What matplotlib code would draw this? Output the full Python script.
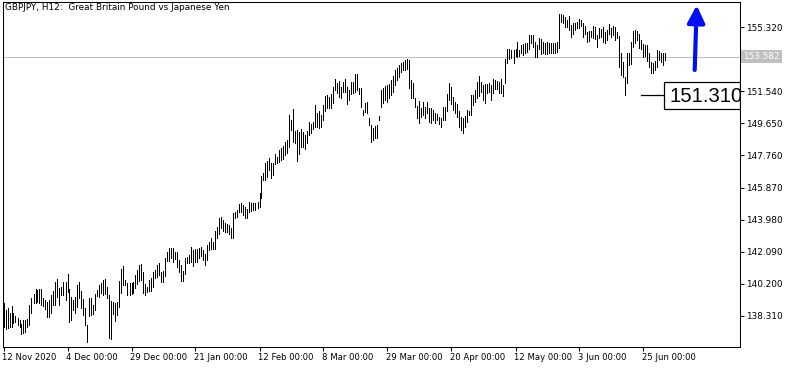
import numpy as np
import matplotlib
matplotlib.use("Agg")
import matplotlib.pyplot as plt
import matplotlib.transforms as mtransforms
from matplotlib.patches import Rectangle

# chart header and axis labels
chart_title = "GBPJPY, H12:  Great Britain Pound vs Japanese Yen"
date_labels = ["12 Nov 2020", "4 Dec 00:00", "29 Dec 00:00", "21 Jan 00:00",
               "12 Feb 00:00", "8 Mar 00:00", "29 Mar 00:00", "20 Apr 00:00",
               "12 May 00:00", "3 Jun 00:00", "25 Jun 00:00"]
bars_per_label = 32
price_ticks = [138.310, 140.200, 142.090, 143.980, 145.870,
               147.760, 149.650, 151.540, 153.430, 155.320]
last_price = 153.582
marked_low = 151.310

# H12 bars (high / low)
highs = [
    139.08, 138.65, 138.79, 138.49, 138.88, 138.45, 138.29, 138.16, 138.06, 137.80,
    138.06, 138.06, 138.10, 138.94, 139.37, 139.57, 139.89, 139.83, 139.89, 139.87,
    139.34, 139.24, 139.14, 139.24, 139.53, 139.77, 140.32, 140.46, 139.96, 140.02,
    140.28, 140.32, 140.75, 139.87, 139.43, 139.24, 139.43, 140.12, 140.32, 139.77,
    139.30, 138.75, 137.76, 139.34, 139.37, 138.94, 139.57, 139.83, 140.12, 140.22,
    140.42, 140.48, 140.02, 139.53, 139.18, 139.14, 139.04, 139.10, 140.36, 141.07,
    141.24, 140.42, 140.22, 140.22, 140.22, 140.28, 140.71, 141.01, 141.30, 141.34,
    140.87, 140.16, 140.02, 140.42, 140.55, 140.87, 141.01, 141.30, 141.40, 140.91,
    140.95, 141.73, 142.09, 142.28, 142.32, 142.28, 142.09, 142.09, 141.60, 141.30,
    140.95, 141.73, 141.79, 141.89, 142.38, 142.19, 142.25, 142.25, 142.28, 142.34,
    142.19, 141.93, 142.48, 142.68, 142.87, 142.68, 143.31, 143.56, 144.05, 144.11,
    143.96, 143.80, 143.70, 143.66, 143.46, 144.35, 144.41, 144.55,
    144.88, 144.98, 144.84, 144.74, 144.61, 145.04, 144.94, 144.98, 144.94, 145.04,
    145.53, 146.57, 146.71, 147.30, 147.44, 147.60, 147.30, 147.30, 147.83, 147.69,
    148.09, 148.22, 148.34, 148.54, 148.68, 150.15, 149.86, 150.51, 149.21, 149.27,
    149.13, 149.33, 149.17, 148.97, 149.21, 149.76, 149.60, 149.76, 150.74, 150.25,
    150.39, 150.15, 150.74, 151.29, 151.33, 151.23, 151.37, 151.82, 152.27, 152.02,
    152.16, 151.82, 152.12, 152.27, 151.82, 151.63, 152.08, 152.08, 152.57, 152.57,
    151.76, 151.72, 150.45, 150.84, 150.94, 149.99, 149.56, 149.36, 149.52, 149.56,
    150.09, 151.63, 151.72, 151.88, 151.92, 151.96, 152.22, 152.47, 152.81, 152.90,
    153.10, 153.20, 153.30, 153.40, 153.45, 153.40, 152.22, 152.02, 151.13, 150.70,
    150.98, 150.58, 150.94, 150.64, 150.94, 150.54, 150.58, 150.45, 150.25, 150.19,
    150.05, 149.99, 150.64, 150.64, 151.37, 152.02, 151.82, 151.23, 150.94, 150.78,
    150.39, 150.05, 149.95, 150.11, 150.45, 150.39, 151.33,
    151.33, 151.62, 152.11, 152.45, 152.11, 151.92, 151.98, 151.98, 152.05, 151.92,
    152.25, 152.21, 152.17, 152.11, 152.25, 151.92, 153.43, 154.02, 154.02, 153.98,
    153.98, 154.02, 154.43, 153.98, 154.28, 154.33, 154.41, 154.37, 154.87, 154.87,
    154.87, 154.47, 154.28, 154.67, 154.61, 154.47, 154.37, 154.47, 154.37, 154.41,
    154.41, 154.41, 154.47, 156.10, 156.10, 156.05, 155.91, 155.75, 155.99, 155.46,
    155.59, 155.59, 155.65, 155.79, 155.75, 155.59, 155.40, 155.06, 155.12, 155.12,
    155.40, 155.36, 154.87, 155.26, 155.20, 155.32, 155.06, 155.16, 155.51, 155.26,
    155.40, 155.32, 155.06, 154.81, 153.78, 153.29, 152.41, 153.78, 153.82, 154.47,
    155.12, 155.16, 155.12, 154.92, 154.57, 154.33, 154.28, 154.28, 153.78, 153.29,
    153.19, 153.35, 153.98, 153.94, 153.78, 153.78, 153.78,
]
lows = [
    137.66, 137.53, 137.61, 137.66, 137.66, 137.86, 137.92, 137.76, 137.66, 137.21,
    137.27, 137.37, 137.66, 137.76, 138.49, 139.04, 139.04, 139.14, 139.04, 138.94,
    138.90, 138.71, 138.25, 138.25, 138.45, 138.94, 138.94, 139.43, 138.94, 139.53,
    139.53, 139.24, 139.73, 137.96, 138.06, 138.65, 138.45, 138.84, 139.34, 138.79,
    138.35, 137.76, 136.78, 138.29, 138.35, 138.39, 138.65, 139.47, 139.43, 139.63,
    139.53, 139.57, 139.34, 136.98, 136.94, 138.41, 138.00, 138.35, 138.84, 139.63,
    140.12, 140.12, 139.53, 139.53, 139.57, 139.63, 139.93, 140.16, 140.36, 140.42,
    139.63, 139.53, 139.73, 139.79, 139.79, 140.02, 140.55, 140.61, 140.71, 140.32,
    140.32, 140.67, 141.54, 141.54, 141.73, 141.50, 141.66, 141.20, 140.91, 140.36,
    140.36, 140.75, 141.40, 141.40, 141.50, 141.26, 141.50, 141.50, 141.69, 141.83,
    141.60, 141.30, 141.60, 142.19, 142.23, 142.23, 142.23, 142.91, 143.11, 143.46,
    143.31, 143.27, 143.27, 143.11, 142.87, 142.87, 144.05, 144.15,
    144.45, 144.41, 144.25, 144.06, 144.10, 144.45, 144.49, 144.55, 144.55, 144.65,
    144.74, 145.28, 146.32, 146.32, 146.51, 146.91, 146.42, 146.61, 147.24, 147.30,
    147.40, 147.50, 147.56, 147.79, 147.89, 148.28, 149.27, 148.54, 148.48, 147.44,
    147.83, 148.28, 148.28, 148.15, 148.48, 148.97, 149.07, 149.33, 149.46, 149.46,
    149.36, 149.46, 149.86, 150.39, 150.54, 150.54, 150.58, 150.84, 151.63, 151.43,
    151.23, 151.17, 151.49, 151.53, 150.78, 151.04, 151.37, 151.43, 151.53, 151.63,
    151.37, 150.64, 150.15, 150.35, 150.25, 149.56, 148.58, 148.68, 148.77, 148.81,
    149.86, 150.64, 150.84, 151.04, 150.94, 151.13, 151.33, 151.53, 151.92, 152.22,
    152.41, 152.71, 152.81, 152.81, 152.86, 151.72, 151.13, 151.17, 150.64, 149.95,
    149.66, 150.05, 150.15, 149.95, 150.25, 149.76, 149.66, 149.86, 149.66, 149.86,
    149.60, 149.46, 149.86, 149.86, 150.39, 151.04, 150.78, 150.45, 150.25, 150.05,
    149.46, 149.27, 149.07, 149.46, 149.76, 150.15, 150.15,
    150.74, 150.93, 151.13, 151.27, 151.52, 151.03, 150.84, 151.42, 151.52, 151.03,
    151.42, 151.66, 151.66, 151.46, 151.42, 151.27, 152.05, 153.19, 153.43, 153.49,
    153.23, 153.63, 153.59, 153.63, 153.78, 153.69, 153.82, 153.88, 154.02, 154.37,
    154.18, 153.55, 153.59, 154.02, 153.75, 153.78, 153.75, 153.75, 153.78, 153.78,
    153.78, 153.82, 153.88, 154.08, 155.65, 155.55, 155.36, 155.36, 155.16, 154.77,
    154.92, 155.16, 155.26, 155.26, 155.40, 154.73, 154.92, 154.47, 154.53, 154.77,
    154.67, 154.61, 154.18, 154.67, 154.77, 154.47, 154.37, 154.57, 154.92, 154.77,
    154.87, 154.57, 154.67, 153.00, 152.51, 152.41, 151.31, 152.05, 153.10, 153.16,
    154.18, 154.41, 154.57, 154.08, 154.02, 153.59, 153.63, 153.35, 153.00, 152.64,
    152.61, 152.80, 153.00, 153.39, 153.29, 153.10, 153.39,
]

W, H = 793, 368
fig = plt.figure(figsize=(W / 100, H / 100), dpi=100)
ax = fig.add_axes([3 / W, 21 / H, 737 / W, 345 / H])

x = np.arange(len(highs))
ax.vlines(x, lows, highs, color="black", linewidth=0.6, antialiased=False, zorder=3)

ax.set_xlim(-0.25, 368.25)
ax.set_ylim(136.464, 156.81)

# current price line
ax.axhline(last_price, color="#c0c0c0", linewidth=0.75, zorder=1)

for s in ax.spines.values():
    s.set_linewidth(0.75)

ax.yaxis.tick_right()
ax.set_yticks(price_ticks)
ax.set_yticklabels([f"{v:.3f}" for v in price_ticks])
ax.set_xticks(np.arange(len(date_labels)) * bars_per_label)
ax.set_xticklabels(date_labels, ha="left")
ax.tick_params(axis="both", direction="out", length=3.2, width=0.75, colors="black")
ax.tick_params(axis="y", pad=1.5, labelsize=6.4)
ax.tick_params(axis="x", pad=1.0, labelsize=6.1)
offset = mtransforms.ScaledTranslation(-1 / 100, 0, fig.dpi_scale_trans)
for lab in ax.get_xticklabels():
    lab.set_transform(lab.get_transform() + offset)

# last price label on the scale
trans = mtransforms.blended_transform_factory(ax.transAxes, ax.transData)
ax.text(1.004, last_price, f"{last_price:.3f}", transform=trans, ha="left",
        va="center", fontsize=6.4, color="white", clip_on=False, zorder=10,
        bbox=dict(boxstyle="square,pad=0.25", fc="#c0c0c0", ec="none"))

# marked low level with box
n = len(highs)
ax.plot([n - 13, 330.25], [marked_low, marked_low], color="black",
        linewidth=0.9, zorder=4)
box_h = 27 / 16.955
ax.add_patch(Rectangle((330.25, marked_low - box_h / 2), 38, box_h,
                       facecolor="white", edgecolor="black", linewidth=0.9, zorder=5))
ax.text(333.2, marked_low - 0.05, f"{marked_low:.3f}", fontsize=14.6,
        family="Liberation Sans", ha="left", va="center", zorder=6, clip_on=True)

# direction arrow
ax.annotate("", xy=(346.6, 156.62), xytext=(345.6, 152.80),
            arrowprops=dict(arrowstyle="-|>", color="#0010f0", lw=3,
                            mutation_scale=26, shrinkA=0, shrinkB=0),
            zorder=7)

fig.text(5 / W, 1 - 3 / H, chart_title, ha="left", va="top", fontsize=6.4)

fig.savefig("out.png", dpi=100)
